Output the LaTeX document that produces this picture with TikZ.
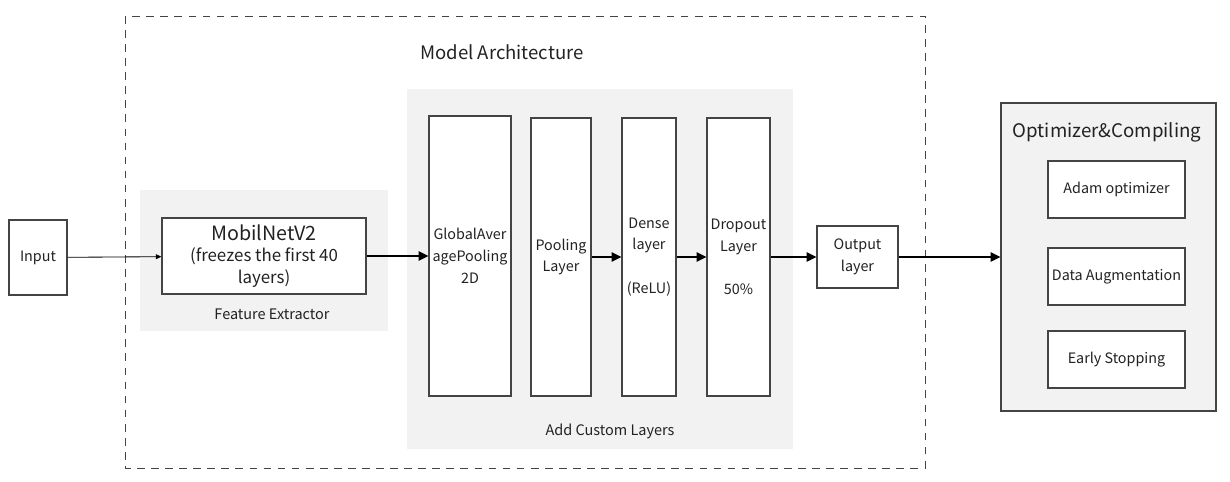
\documentclass[tikz,border=0pt]{standalone}
\usepackage{fontspec}
\setmainfont{Noto Sans CJK SC}
\usetikzlibrary{arrows.meta}
\definecolor{panelgray}{HTML}{F2F2F2}
\definecolor{linegray}{HTML}{444444}
\definecolor{textgray}{HTML}{222222}
\begin{document}
\begin{tikzpicture}[x=0.025cm,y=-0.025cm,text=textgray,
		layerbox/.style={draw=linegray,line width=0.8pt,fill=white,align=center,inner sep=1pt,font=\fontsize{10.2}{15.5}\selectfont},
		caption/.style={font=\fontsize{10.3}{12}\selectfont},
		flowarrow/.style={-{Triangle[length=7pt,width=6.5pt]},line width=1.4pt},
		thinarrow/.style={-{Triangle[length=4pt,width=3.5pt]},line width=0.6pt}]
		\useasboundingbox (0,0) rectangle (1230,481);

		\draw[linegray,line width=0.7pt,dash pattern=on 5.5pt off 4.5pt] (125,16) rectangle (925,468);
		\node[font=\fontsize{13.2}{15}\selectfont] (archtitle) at (502,52) {Model Architecture};

		\fill[panelgray] (140,190) rectangle (388,331);
		\fill[panelgray] (407,89) rectangle (793,449);
		\node[caption] (fecap) at (272,314) {Feature Extractor};
		\node[caption] (custcap) at (610,431) {Add Custom Layers};

		\node[layerbox,minimum width=1.45cm,minimum height=1.875cm] (input) at (38,257.5) {Input};
		\node[layerbox,minimum width=5.1cm,minimum height=1.9cm,font=\fontsize{12}{15.5}\selectfont] (mobil) at (264,256) {{\fontsize{14}{15}\selectfont MobilNetV2}\\(freezes the first 40\\layers)};

		\node[layerbox,minimum width=2.05cm,minimum height=7cm] (gap) at (470,256) {GlobalAver\\agePooling\\2D};
		\node[layerbox,minimum width=1.5cm,minimum height=6.95cm] (pool) at (561,257) {Pooling\\Layer};
		\node[layerbox,minimum width=1.35cm,minimum height=6.95cm] (dense) at (649,257) {Dense\\layer\\[15.5pt](ReLU)};
		\node[layerbox,minimum width=1.575cm,minimum height=6.95cm] (drop) at (738.5,257) {Dropout\\Layer\\[15.5pt]50\%};
		\node[layerbox,minimum width=2.025cm,minimum height=1.55cm] (output) at (857.5,257) {Output\\layer};

		\node[layerbox,fill=panelgray,minimum width=5.375cm,minimum height=7.7cm] (optim) at (1108.5,257) {};
		\node[font=\fontsize{13.3}{15}\selectfont] (optitle) at (1107,132) {Optimizer\&Compiling};
		\node[layerbox,minimum width=3.425cm,minimum height=1.425cm] (adam) at (1116.5,189.5) {Adam optimizer};
		\node[layerbox,minimum width=3.425cm,minimum height=1.425cm] (augm) at (1116.5,276.5) {Data Augmentation};
		\node[layerbox,minimum width=3.425cm,minimum height=1.425cm] (early) at (1116.5,359.5) {Early Stopping};

		\draw[thinarrow] (input) -- (mobil);
		\draw[flowarrow] (mobil.east) -- (gap.west |- mobil.east);
		\draw[flowarrow] (pool.east) -- (dense.west);
		\draw[flowarrow] (dense.east) -- (drop.west);
		\draw[flowarrow] (drop.east) -- (output.west);
		\draw[flowarrow] (output.east) -- (optim.west);
	\end{tikzpicture}
\end{document}
